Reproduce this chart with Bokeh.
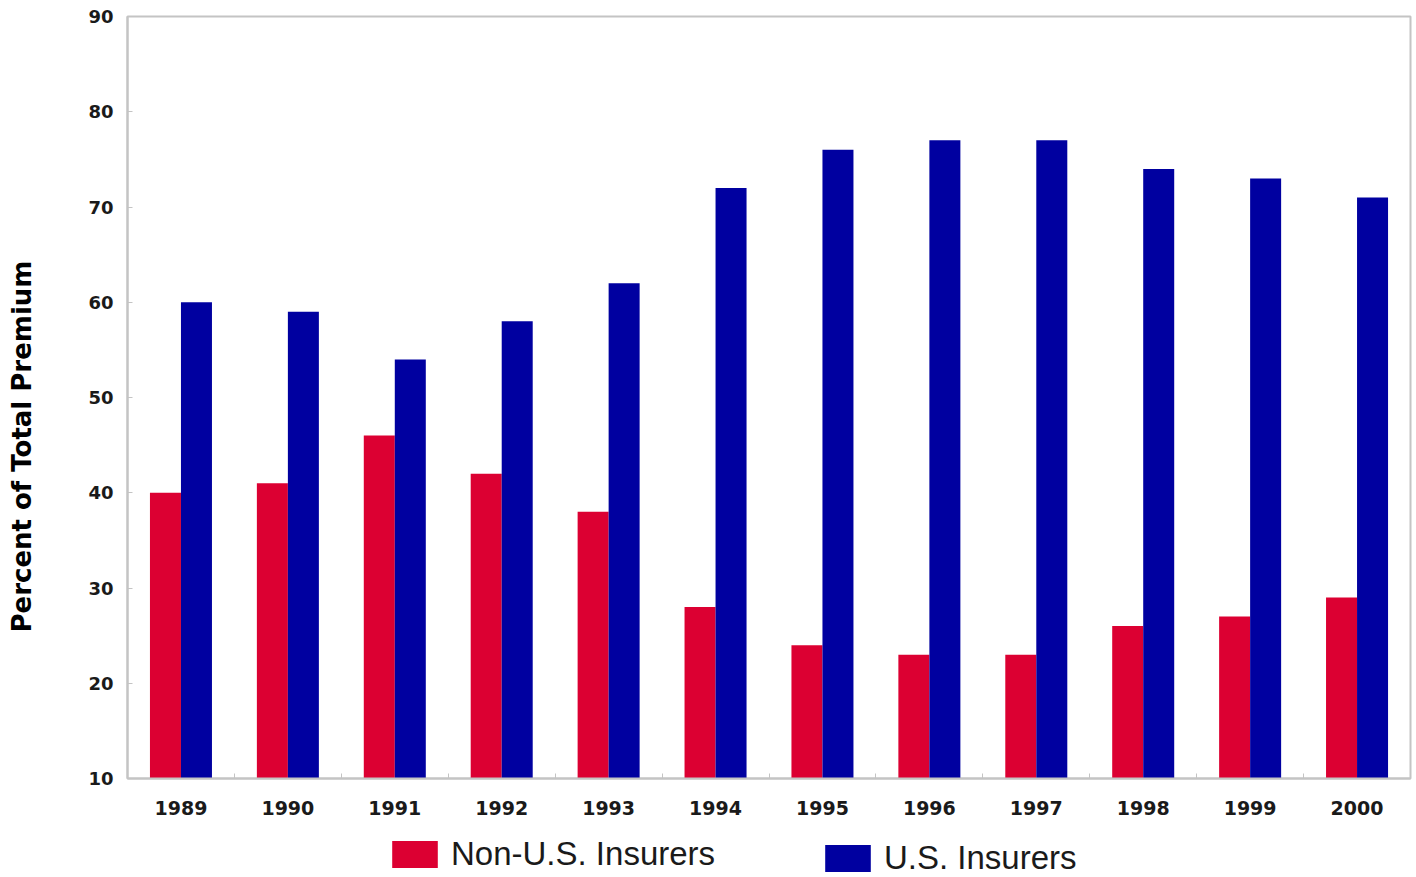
from bokeh.plotting import figure
from bokeh.models import (ColumnDataSource, FixedTicker, Range1d, Legend, LegendItem, Label)
from bokeh.layouts import column, row
from bokeh.transform import dodge
from bokeh.embed import file_html
from bokeh.resources import INLINE

years = ["1989", "1990", "1991", "1992", "1993", "1994", "1995", "1996", "1997", "1998", "1999", "2000"]
non_us = [40, 41, 46, 42, 38, 28, 24, 23, 23, 26, 27, 29]
us = [60, 59, 54, 58, 62, 72, 76, 77, 77, 74, 73, 71]
y_ticks = [10, 20, 30, 40, 50, 60, 70, 80, 90]

RED = "#DC0032"
BLUE = "#0000A0"
GREY = "#C4C4C4"

xpos = [i + 0.5 for i in range(len(years))]
src = ColumnDataSource(dict(x=xpos, non_us=non_us, us=us))

# main chart
p = figure(width=1374, height=830, output_backend="svg", toolbar_location=None,
           x_range=Range1d(0, len(years)), y_range=Range1d(10, 90),
           min_border_left=85, min_border_right=6, min_border_top=16, min_border_bottom=52)
p.background_fill_color = "white"
p.border_fill_color = "white"
p.outline_line_color = GREY
p.outline_line_width = 2
p.grid.visible = False

bw = 0.29
r1 = p.vbar(x=dodge("x", -bw / 2, range=p.x_range), top="non_us", bottom=10, width=bw,
            source=src, fill_color=RED, line_color=None)
r2 = p.vbar(x=dodge("x", bw / 2, range=p.x_range), top="us", bottom=10, width=bw,
            source=src, fill_color=BLUE, line_color=None)

p.xaxis.ticker = FixedTicker(ticks=xpos, minor_ticks=list(range(1, len(years))))
p.xaxis.major_label_overrides = {x: y for x, y in zip(xpos, years)}
p.xaxis.major_tick_in = 0
p.xaxis.major_tick_out = 0
p.xaxis.minor_tick_in = 5
p.xaxis.minor_tick_out = 0
p.xaxis.minor_tick_line_color = GREY
p.xaxis.axis_line_color = GREY
p.xaxis.axis_line_width = 2
p.xaxis.major_label_text_font = "DejaVu Sans"
p.xaxis.major_label_text_font_style = "bold"
p.xaxis.major_label_text_font_size = "19px"
p.xaxis.major_label_text_color = "#1a1a1a"
p.xaxis.major_label_standoff = 22

p.yaxis.ticker = FixedTicker(ticks=y_ticks)
p.yaxis.major_tick_in = 5
p.yaxis.major_tick_out = 0
p.yaxis.major_tick_line_color = GREY
p.yaxis.minor_tick_line_color = None
p.yaxis.axis_line_color = GREY
p.yaxis.axis_line_width = 2
p.yaxis.major_label_text_font = "DejaVu Sans"
p.yaxis.major_label_text_font_style = "bold"
p.yaxis.major_label_text_font_size = "18px"
p.yaxis.major_label_text_color = "#1a1a1a"
p.yaxis.major_label_standoff = 14

# y-axis title strip (left)
lab = figure(width=42, height=830, output_backend="svg", toolbar_location=None,
             x_range=Range1d(0, 42), y_range=Range1d(10, 90),
             x_axis_type=None, y_axis_type=None,
             min_border_left=0, min_border_right=0, min_border_top=16, min_border_bottom=52)
lab.outline_line_color = None
lab.grid.visible = False
lab.border_fill_color = "white"
lab.add_layout(Label(x=21, y=44.85, text="Percent of Total Premium", angle=90, angle_units="deg",
                     text_font="DejaVu Sans", text_font_style="bold", text_font_size="26px",
                     text_color="black", text_align="center", text_baseline="middle"))

# legend strip (below)
q = figure(width=1416, height=47, output_backend="svg", toolbar_location=None,
           x_range=Range1d(0, len(years)), y_range=Range1d(0, 1),
           x_axis_type=None, y_axis_type=None,
           min_border_left=127, min_border_right=6, min_border_top=0, min_border_bottom=0)
q.outline_line_color = None
q.grid.visible = False
q.border_fill_color = "white"
s1 = q.vbar(x="x", top="non_us", bottom=10, width=0, source=src, fill_color=RED, line_color=None)
s2 = q.vbar(x="x", top="us", bottom=10, width=0, source=src, fill_color=BLUE, line_color=None)

common = dict(orientation="horizontal", padding=0, margin=0, spacing=0,
              glyph_width=57, glyph_height=34, label_standoff=8,
              label_text_font="Liberation Sans", label_text_font_size="33px",
              label_text_color="#1a1a1a", border_line_color=None,
              background_fill_alpha=0)
leg1 = Legend(items=[LegendItem(label="Non-U.S. Insurers", renderers=[s1])],
              location=(259, 4), **common)
leg2 = Legend(items=[LegendItem(label="U.S. Insurers", renderers=[s2])],
              location=(692, 0), **common)
q.add_layout(leg1, "center")
q.add_layout(leg2, "center")

layout = column(row(lab, p, spacing=0), q, spacing=0)
open("out.html", "w").write(file_html(layout, INLINE))
